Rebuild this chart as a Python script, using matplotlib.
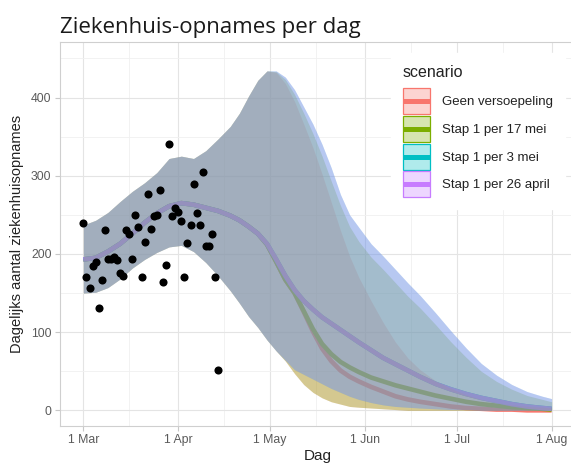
"""
Ziekenhuis-opnames per dag — scenario's versoepeling
Schrijft out.png (571x466).
"""
import numpy as np
import pandas as pd
import matplotlib
matplotlib.use("Agg")
import matplotlib.pyplot as plt
import matplotlib.dates as mdates
from matplotlib.colors import to_rgba
from matplotlib.patches import Rectangle
from matplotlib.lines import Line2D
from matplotlib.legend_handler import HandlerBase

START = pd.Timestamp("2021-03-01")

# waargenomen opnames: dag na 1 maart -> aantal
obs_day = list(range(45))
obs_value = [240, 171, 157, 184, 190, 131, 167, 231, 194, 194, 196, 192, 176, 172,
             231, 226, 194, 250, 235, 171, 215, 277, 232, 248, 250, 282, 164, 186,
             340, 248, 259, 254, 242, 171, 214, 237, 290, 252, 237, 305, 210, 210,
             225, 171, 52]

# modeldeel dat voor alle scenario's gelijk is
early_days = [0, 4, 8, 12, 16, 20, 24, 28, 32, 36, 40, 44, 48, 51, 54]
early_mid = [193, 195, 203, 213, 226, 240, 252, 261, 265, 263, 259, 255, 249, 243, 235]
early_lo = [150, 151, 157, 168, 182, 193, 202, 209, 211, 203, 189, 172, 153, 137, 120]
early_hi = [237, 243, 253, 267, 280, 291, 304, 322, 325, 322, 332, 347, 363, 380, 402]

# daarna per scenario
late_days = [57, 60, 63, 66, 69, 72, 75, 78, 81, 84, 87, 90, 94, 98, 102, 106, 110,
             115, 120, 125, 130, 135, 140, 145, 150, 153]

geen_mid = [226, 212, 190, 167, 150, 126, 101, 79, 63, 51, 43, 37, 30, 24, 18, 14, 11,
            8, 5, 3, 2, 1, 1, 0, 0, 0]
geen_lo = [106, 90, 76, 63, 47, 33, 23, 16, 11, 8, 5, 4, 3, 2, 1, 0, 0,
           0, 0, 0, 0, 0, 0, 0, 0, 0]
geen_hi = [422, 434, 432, 418, 395, 366, 336, 302, 266, 230, 197, 170, 140, 112, 87, 67, 52,
           38, 28, 20, 14, 10, 7, 5, 4, 3]

mei17_mid = [226, 212, 190, 167, 150, 127, 104, 85, 72, 62, 55, 49, 42, 37, 32, 28, 24,
             19, 15, 11, 8, 6, 4, 3, 2, 1]
mei17_lo = geen_lo
mei17_hi = [422, 434, 433, 423, 404, 380, 354, 325, 293, 262, 235, 216, 196, 180, 163, 146, 131,
            110, 88, 68, 50, 37, 27, 19, 14, 11]

mei3_mid = [226, 213, 193, 172, 154, 140, 129, 119, 111, 103, 95, 87, 77, 67, 59, 51, 43,
            34, 27, 21, 16, 12, 8, 5, 3, 2]
mei3_lo = [106, 90, 76, 64, 52, 46, 40, 34, 28, 23, 18, 14, 10, 7, 5, 4, 3,
           2, 1, 1, 0, 0, 0, 0, 0, 0]
mei3_hi = [422, 434, 434, 426, 410, 388, 366, 340, 310, 276, 250, 234, 213, 197, 180, 163, 147,
           125, 102, 80, 60, 45, 33, 24, 18, 15]

apr26_mid = mei3_mid
apr26_lo = mei3_lo
apr26_hi = mei3_hi

scenarios = ["Geen versoepeling", "Stap 1 per 17 mei", "Stap 1 per 3 mei", "Stap 1 per 26 april"]
colors = ["#F8766D", "#7CAE00", "#00BFC4", "#C77CFF"]
mids = [geen_mid, mei17_mid, mei3_mid, apr26_mid]
los = [geen_lo, mei17_lo, mei3_lo, apr26_lo]
his = [geen_hi, mei17_hi, mei3_hi, apr26_hi]
ALPHA = 0.31


class RibbonKey:
    def __init__(self, color):
        self.color = color


class RibbonKeyHandler(HandlerBase):
    # vlak met rand + dikke lijn in het midden, zoals een ggplot-legendasleutel
    def create_artists(self, legend, orig_handle, xdescent, ydescent, width, height,
                       fontsize, trans):
        c = orig_handle.color
        box = Rectangle((-xdescent, -ydescent), width, height, facecolor=to_rgba(c, ALPHA),
                        edgecolor=c, lw=0.9, transform=trans)
        y = -ydescent + height / 2
        line = Line2D([-xdescent, -xdescent + width], [y, y], color=c, lw=3.6,
                      solid_capstyle="butt", transform=trans)
        return [box, line]


model_days = early_days + late_days
model_x = START + pd.to_timedelta(model_days, unit="D")
obs_x = START + pd.to_timedelta(obs_day, unit="D")

fig = plt.figure(figsize=(5.71, 4.66), dpi=100)
ax = fig.add_axes([60 / 571, 40 / 466, 515 / 571, 384 / 466])
ax.set_facecolor("white")

# lijnen eerst, banden er overheen (zoals in het origineel)
for mid, col in zip(mids, colors):
    ax.plot(model_x, early_mid + mid, color=col, lw=3.3, solid_capstyle="butt",
            solid_joinstyle="round", zorder=2)
for lo, hi, col in zip(los, his, colors):
    ax.fill_between(model_x, early_lo + lo, early_hi + hi, color=col, alpha=ALPHA,
                    lw=0, zorder=3)

ax.scatter(obs_x, obs_value, s=34, color="black", lw=0, zorder=4)

# as-bereik met 5% marge zoals ggplot
span = model_days[-1] - model_days[0]
ax.set_xlim(START + pd.Timedelta(days=model_days[0] - 0.05 * span),
            START + pd.Timedelta(days=model_days[-1] + 0.05 * span))
ax.set_ylim(-20, 471)

ax.xaxis.set_major_locator(mdates.MonthLocator())
ax.xaxis.set_minor_locator(mdates.MonthLocator(bymonthday=16))
ax.xaxis.set_major_formatter(mdates.DateFormatter("%-d %b"))
ax.set_yticks([0, 100, 200, 300, 400])
ax.set_yticks([50, 150, 250, 350, 450], minor=True)

ax.grid(which="major", color="#e4e4e4", lw=0.8, zorder=0)
ax.grid(which="minor", color="#f0f0f0", lw=0.6, zorder=0)
ax.set_axisbelow(True)
for sp in ax.spines.values():
    sp.set_color("#cfcfcf")
    sp.set_linewidth(0.8)
ax.tick_params(which="major", length=3.6, width=0.8, color="#c8c8c8",
               labelcolor="#5a5a5a", labelsize=8.8, pad=2.5)
ax.tick_params(which="minor", length=0)
for lab in ax.get_xticklabels() + ax.get_yticklabels():
    lab.set_fontfamily("Liberation Sans")

ax.set_xlabel("Dag", fontsize=11, family="Liberation Sans", color="#222222", labelpad=1.5)
ax.set_ylabel("Dagelijks aantal ziekenhuisopnames", fontsize=10.5,
              family="Liberation Sans", color="#222222", labelpad=5)

fig.text(60 / 571, 1 - 33 / 466, "Ziekenhuis-opnames per dag", fontsize=16,
         family="Open Sans", color="#1a1a1a", va="baseline", ha="left")

handles = [RibbonKey(c) for c in colors]
leg = ax.legend(handles, scenarios, title="scenario", loc="upper left",
                handler_map={RibbonKey: RibbonKeyHandler()},
                bbox_to_anchor=(391 / 571, 1 - 53 / 466), bbox_transform=fig.transFigure,
                prop={"family": "Liberation Sans", "size": 9.5},
                title_fontproperties={"family": "Liberation Sans", "size": 11.5},
                alignment="left", frameon=True, fancybox=False, framealpha=1,
                edgecolor="white", facecolor="white", handlelength=2.05,
                handleheight=2.65, labelspacing=0.13, handletextpad=0.95,
                borderpad=0.9, borderaxespad=0)
leg._legend_box.sep = 6  # wat meer ruimte onder de titel
leg.set_zorder(5)
leg.get_title().set_color("#222222")
for t in leg.get_texts():
    t.set_color("#222222")

fig.savefig("out.png", dpi=100)
